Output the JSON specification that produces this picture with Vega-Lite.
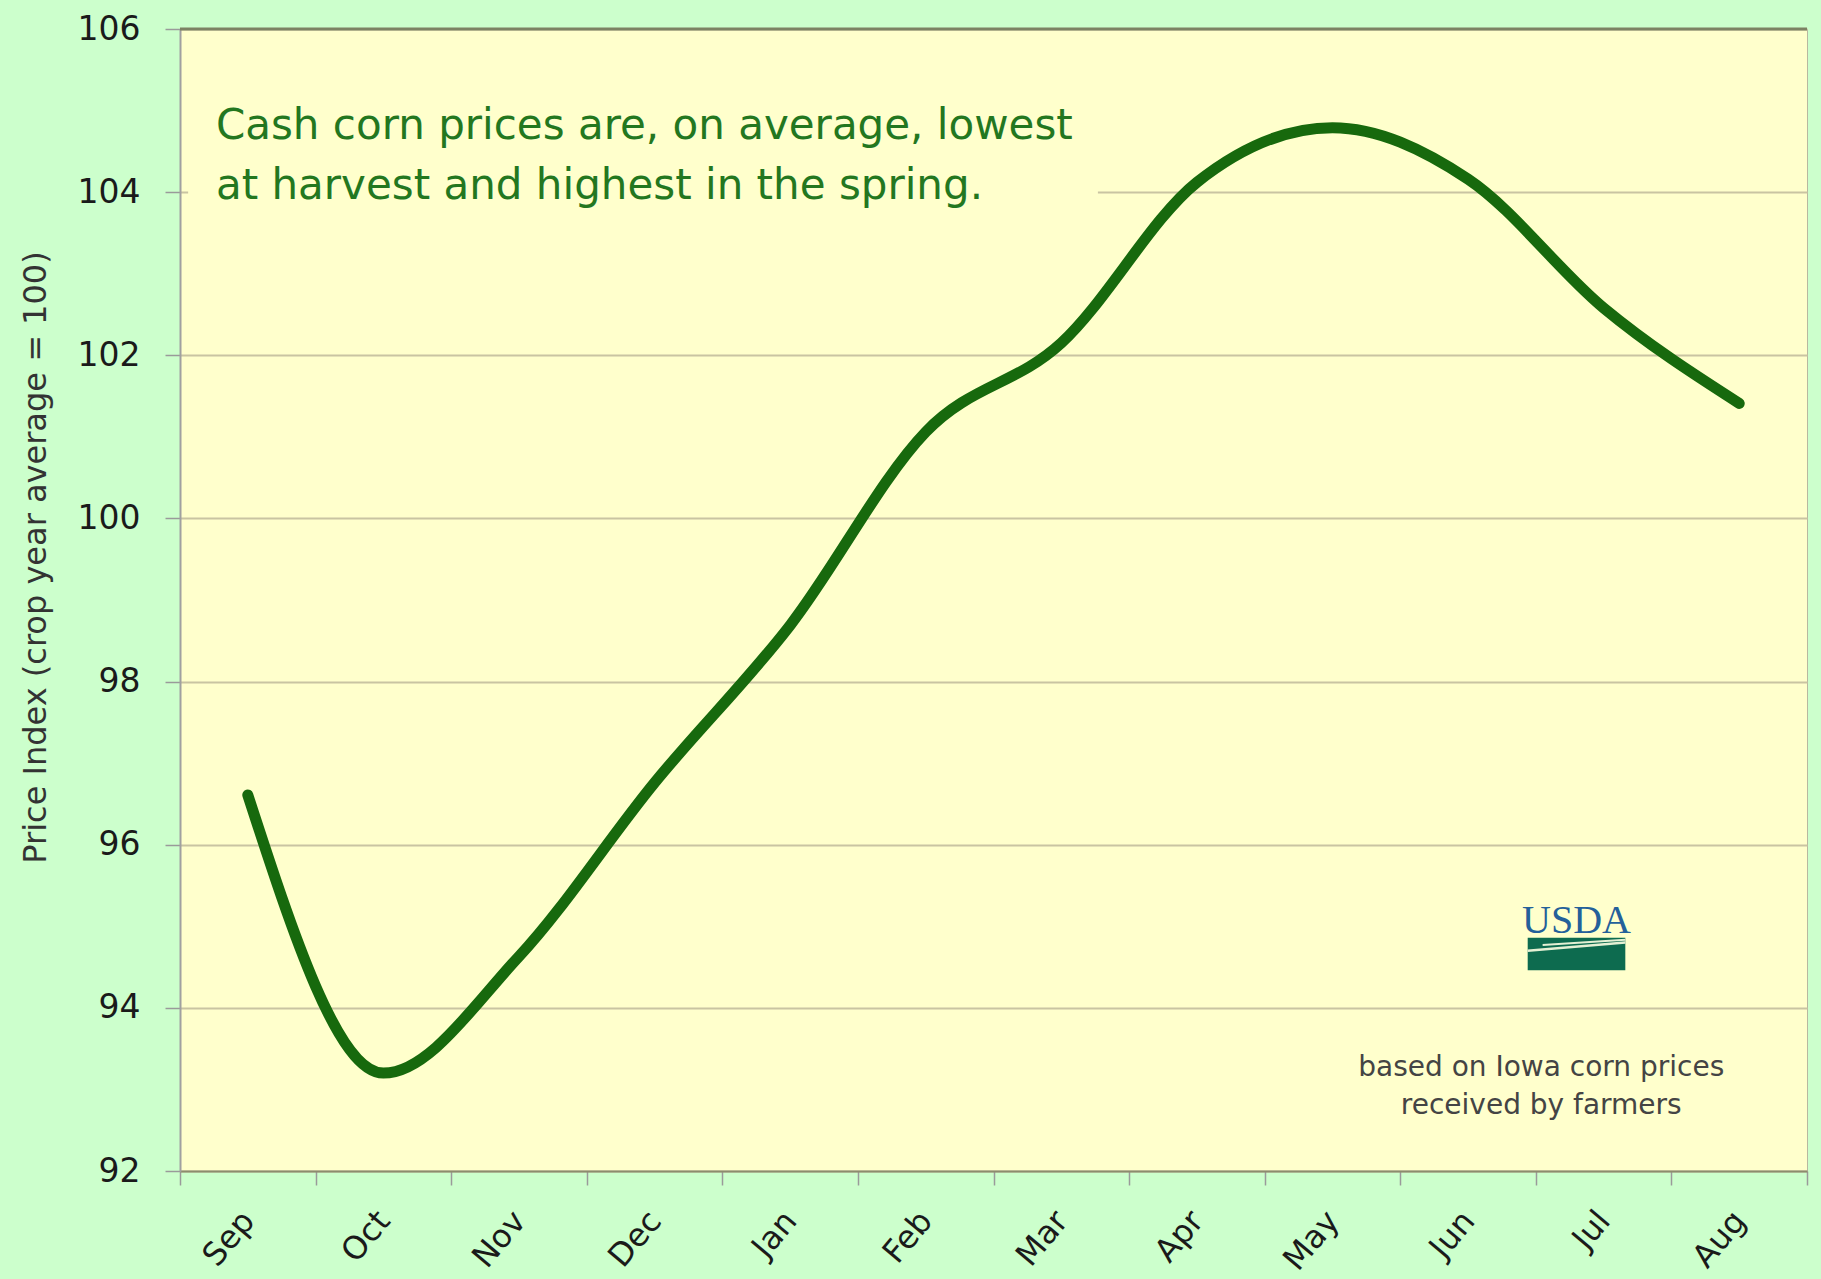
{
  "$schema": "https://vega.github.io/schema/vega-lite/v6.json",
  "width": 1627,
  "height": 1142,
  "autosize": {"type": "none"},
  "padding": {"left": 180, "top": 29, "right": 14, "bottom": 108},
  "background": "#CCFFCC",
  "config": {
    "font": "DejaVu Sans",
    "view": {"fill": "#FFFFCC", "stroke": "#B8B8A0", "strokeWidth": 1}
  },
  "datasets": {
    "prices": [
      {"month": "Sep", "index": 96.61},
      {"month": "Oct", "index": 93.2},
      {"month": "Nov", "index": 94.63},
      {"month": "Dec", "index": 96.76},
      {"month": "Jan", "index": 98.69},
      {"month": "Feb", "index": 101.06},
      {"month": "Mar", "index": 102.15},
      {"month": "Apr", "index": 104.12},
      {"month": "May", "index": 104.79},
      {"month": "Jun", "index": 104.16},
      {"month": "Jul", "index": 102.58},
      {"month": "Aug", "index": 101.41}
    ],
    "one": [{}]
  },
  "resolve": {"scale": {"x": "independent"}},
  "layer": [
    {
      "data": {"name": "prices"},
      "mark": {"type": "line", "interpolate": "monotone", "color": "#17690D", "strokeWidth": 11, "strokeCap": "round"},
      "encoding": {
        "x": {
          "field": "month", "type": "nominal", "sort": null, "bandPosition": 0.5,
          "scale": {"type": "band", "paddingInner": 0, "paddingOuter": 0},
          "axis": {
            "title": null, "labelAngle": -50, "labelFontSize": 32, "labelColor": "#1a1a1a",
            "tickBand": "extent", "tickSize": 14, "tickColor": "#9A9A9A", "tickWidth": 1.5,
            "domainColor": "#8C8C6E", "domainWidth": 2, "labelPadding": 30, "grid": false
          }
        },
        "y": {
          "field": "index", "type": "quantitative",
          "scale": {"domain": [92, 106], "nice": false, "zero": false},
          "axis": {
            "title": "Price Index (crop year average = 100)", "titleFontSize": 32,
            "titleFontWeight": "normal", "titleColor": "#333333", "titlePadding": 25,
            "titleY": 528,
            "values": [92, 94, 96, 98, 100, 102, 104, 106], "format": "d",
            "labelFontSize": 33, "labelColor": "#1a1a1a", "labelPadding": 25,
            "tickSize": 15, "tickColor": "#9A9A9A", "tickWidth": 1.5,
            "domainColor": "#A0A0A0", "domainWidth": 2,
            "grid": true, "gridColor": "#C9C4A2", "gridWidth": 2
          }
        }
      }
    },
    {
      "data": {"name": "one"},
      "mark": {"type": "rule", "color": "#7C8262", "strokeWidth": 3},
      "encoding": {"y": {"datum": 106}}
    },
    {
      "data": {"name": "one"},
      "mark": {"type": "rect", "color": "#FFFFCC"},
      "encoding": {
        "x": {"datum": 0.06, "type": "quantitative", "scale": {"domain": [0, 12]}, "axis": null},
        "x2": {"datum": 6.77},
        "y": {"datum": 103.8},
        "y2": {"datum": 104.2}
      }
    },
    {
      "data": {"name": "one"},
      "mark": {
        "type": "text",
        "text": ["Cash corn prices are, on average, lowest", "at harvest and highest in the spring."],
        "align": "left", "baseline": "alphabetic", "fontSize": 42, "lineHeight": 60, "color": "#23771F"
      },
      "encoding": {
        "x": {"datum": 0.265, "type": "quantitative", "scale": {"domain": [0, 12]}, "axis": null},
        "y": {"datum": 104.65}
      }
    },
    {
      "data": {"name": "one"},
      "mark": {"type": "rect", "color": "#0D6B4F"},
      "encoding": {
        "x": {"datum": 9.94, "type": "quantitative", "scale": {"domain": [0, 12]}, "axis": null},
        "x2": {"datum": 10.66},
        "y": {"datum": 94.46},
        "y2": {"datum": 94.86}
      }
    },
    {
      "data": {"name": "one"},
      "mark": {"type": "rule", "color": "#E4F0D4", "strokeWidth": 2.5},
      "encoding": {
        "x": {"datum": 9.94, "type": "quantitative", "scale": {"domain": [0, 12]}, "axis": null},
        "x2": {"datum": 10.66},
        "y": {"datum": 94.7},
        "y2": {"datum": 94.8}
      }
    },
    {
      "data": {"name": "one"},
      "mark": {"type": "rule", "color": "#E4F0D4", "strokeWidth": 2},
      "encoding": {
        "x": {"datum": 10.05, "type": "quantitative", "scale": {"domain": [0, 12]}, "axis": null},
        "x2": {"datum": 10.66},
        "y": {"datum": 94.77},
        "y2": {"datum": 94.835}
      }
    },
    {
      "data": {"name": "one"},
      "mark": {"type": "text", "text": "USDA", "font": "Liberation Serif", "fontSize": 40, "color": "#24609A", "align": "center", "baseline": "alphabetic"},
      "encoding": {
        "x": {"datum": 10.3, "type": "quantitative", "scale": {"domain": [0, 12]}, "axis": null},
        "y": {"datum": 94.92}
      }
    },
    {
      "data": {"name": "one"},
      "mark": {
        "type": "text",
        "text": ["based on Iowa corn prices", "received by farmers"],
        "align": "center", "baseline": "alphabetic", "fontSize": 28, "lineHeight": 38, "color": "#444444"
      },
      "encoding": {
        "x": {"datum": 10.04, "type": "quantitative", "scale": {"domain": [0, 12]}, "axis": null},
        "y": {"datum": 93.16}
      }
    }
  ]
}
